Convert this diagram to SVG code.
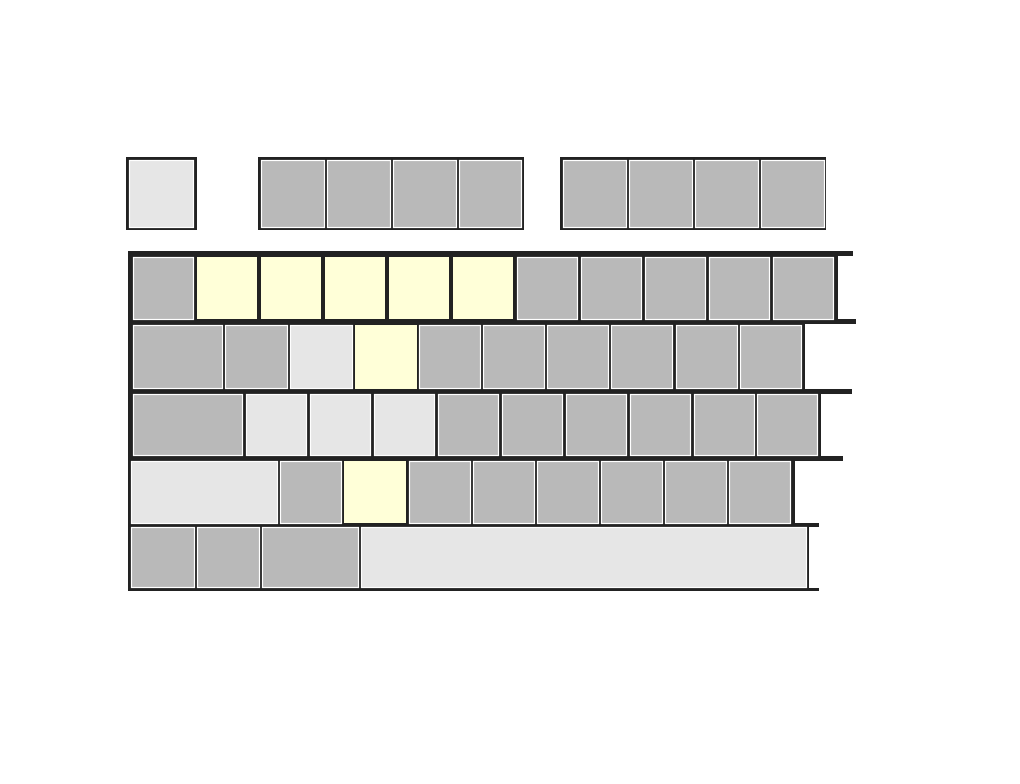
<svg xmlns="http://www.w3.org/2000/svg" width="1020" height="784" viewBox="0 0 1020 784">
<style>
.bg{fill:#222222}
.k{stroke:#ffffff;stroke-width:1.2}
.g{fill:#b9b9b9}
.l{fill:#e6e6e6}
.y{fill:#ffffd8;stroke:none}
</style>
<rect width="1020" height="784" fill="#ffffff"/>
<g id="frames">
<rect class="bg" x="126" y="157" width="71" height="73"/>
<rect class="bg" x="258" y="157" width="266" height="73"/>
<rect class="bg" x="560" y="157" width="266" height="73"/>
<rect class="bg" x="128" y="251" width="710" height="73"/>
<rect class="bg" x="128" y="251" width="725" height="5"/>
<rect class="bg" x="128" y="319" width="728" height="5"/>
<rect class="bg" x="128" y="319" width="677" height="75"/>
<rect class="bg" x="128" y="389" width="724" height="5"/>
<rect class="bg" x="128" y="389" width="693" height="72"/>
<rect class="bg" x="128" y="456" width="715" height="5"/>
<rect class="bg" x="128" y="456" width="667" height="71"/>
<rect class="bg" x="128" y="523" width="691" height="4"/>
<rect class="bg" x="128" y="523" width="681" height="68"/>
<rect class="bg" x="128" y="588" width="691" height="3"/>
</g>
<g id="top-row">
<g id="key-esc"><rect class="k l" x="129.5" y="160.5" width="64" height="67"/></g>
<g id="key-f1"><rect class="k g" x="261.5" y="160.5" width="63" height="67"/></g>
<g id="key-f2"><rect class="k g" x="327.5" y="160.5" width="63" height="67"/></g>
<g id="key-f3"><rect class="k g" x="393.5" y="160.5" width="63" height="67"/></g>
<g id="key-f4"><rect class="k g" x="459.5" y="160.5" width="62" height="67"/></g>
<g id="key-f5"><rect class="k g" x="563.5" y="160.5" width="63" height="67"/></g>
<g id="key-f6"><rect class="k g" x="629.5" y="160.5" width="63" height="67"/></g>
<g id="key-f7"><rect class="k g" x="695.5" y="160.5" width="63" height="67"/></g>
<g id="key-f8"><rect class="k g" x="761.5" y="160.5" width="63" height="67"/></g>
</g>
<g id="row1">
<g id="r1k1"><rect class="k g" x="133.5" y="257.5" width="60" height="62"/></g>
<g id="r1k2"><rect class="y" x="197" y="257" width="60" height="62"/></g>
<g id="r1k3"><rect class="y" x="261" y="257" width="60" height="62"/></g>
<g id="r1k4"><rect class="y" x="325" y="257" width="60" height="62"/></g>
<g id="r1k5"><rect class="y" x="389" y="257" width="60" height="62"/></g>
<g id="r1k6"><rect class="y" x="453" y="257" width="60" height="62"/></g>
<g id="r1k7"><rect class="k g" x="517.5" y="257.5" width="60" height="62"/></g>
<g id="r1k8"><rect class="k g" x="581.5" y="257.5" width="60" height="62"/></g>
<g id="r1k9"><rect class="k g" x="645.5" y="257.5" width="60" height="62"/></g>
<g id="r1k10"><rect class="k g" x="709.5" y="257.5" width="60" height="62"/></g>
<g id="r1k11"><rect class="k g" x="773.5" y="257.5" width="60" height="62"/></g>
</g>
<g id="row2">
<g id="r2k1"><rect class="k g" x="133.5" y="325.5" width="89" height="63"/></g>
<g id="r2k2"><rect class="k g" x="225.5" y="325.5" width="62" height="63"/></g>
<g id="r2k3"><rect class="k l" x="290.5" y="325.5" width="62" height="63"/></g>
<g id="r2k4"><rect class="y" x="355" y="325" width="62" height="64"/></g>
<g id="r2k5"><rect class="k g" x="419.5" y="325.5" width="61" height="63"/></g>
<g id="r2k6"><rect class="k g" x="483.5" y="325.5" width="61" height="63"/></g>
<g id="r2k7"><rect class="k g" x="547.5" y="325.5" width="61" height="63"/></g>
<g id="r2k8"><rect class="k g" x="611.5" y="325.5" width="61" height="63"/></g>
<g id="r2k9"><rect class="k g" x="676.5" y="325.5" width="61" height="63"/></g>
<g id="r2k10"><rect class="k g" x="740.5" y="325.5" width="61" height="63"/></g>
</g>
<g id="row3">
<g id="r3k1"><rect class="k g" x="133.5" y="394.5" width="109" height="61"/></g>
<g id="r3k2"><rect class="k l" x="246.5" y="394.5" width="60" height="61"/></g>
<g id="r3k3"><rect class="k l" x="310.5" y="394.5" width="60" height="61"/></g>
<g id="r3k4"><rect class="k l" x="374.5" y="394.5" width="60" height="61"/></g>
<g id="r3k5"><rect class="k g" x="438.5" y="394.5" width="60" height="61"/></g>
<g id="r3k6"><rect class="k g" x="502.5" y="394.5" width="60" height="61"/></g>
<g id="r3k7"><rect class="k g" x="566.5" y="394.5" width="60" height="61"/></g>
<g id="r3k8"><rect class="k g" x="630.5" y="394.5" width="60" height="61"/></g>
<g id="r3k9"><rect class="k g" x="694.5" y="394.5" width="60" height="61"/></g>
<g id="r3k10"><rect class="k g" x="757.5" y="394.5" width="60" height="61"/></g>
</g>
<g id="row4">
<g id="r4k1"><rect class="k l" x="131.5" y="461.5" width="146" height="62"/></g>
<g id="r4k2"><rect class="k g" x="280.5" y="461.5" width="61" height="62"/></g>
<g id="r4k3"><rect class="y" x="344" y="461" width="62" height="62"/></g>
<g id="r4k4"><rect class="k g" x="409.5" y="461.5" width="61" height="62"/></g>
<g id="r4k5"><rect class="k g" x="473.5" y="461.5" width="61" height="62"/></g>
<g id="r4k6"><rect class="k g" x="537.5" y="461.5" width="61" height="62"/></g>
<g id="r4k7"><rect class="k g" x="601.5" y="461.5" width="61" height="62"/></g>
<g id="r4k8"><rect class="k g" x="665.5" y="461.5" width="61" height="62"/></g>
<g id="r4k9"><rect class="k g" x="729.5" y="461.5" width="61" height="62"/></g>
</g>
<g id="row5">
<g id="r5k1"><rect class="k g" x="131.5" y="527.5" width="63" height="60"/></g>
<g id="r5k2"><rect class="k g" x="197.5" y="527.5" width="62" height="60"/></g>
<g id="r5k3"><rect class="k g" x="262.5" y="527.5" width="96" height="60"/></g>
<g id="r5k4"><rect class="k l" x="361.5" y="527.5" width="445" height="60"/></g>
</g>
</svg>
